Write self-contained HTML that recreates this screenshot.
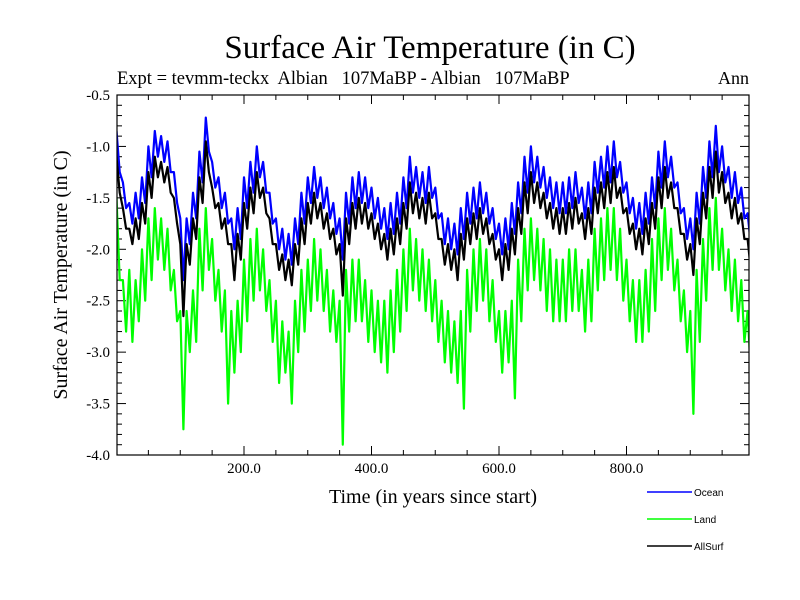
<!DOCTYPE html>
<html><head><meta charset="utf-8"><style>
body{margin:0;background:#fff}
svg{display:block}
.serif{font-family:"Liberation Serif",serif}
.sans{font-family:"Liberation Sans",sans-serif}
</style></head><body>
<svg id="chart" width="800" height="600" viewBox="0 0 800 600" xmlns="http://www.w3.org/2000/svg">
<rect width="800" height="600" fill="#fff"/>
<text class="serif" x="430" y="58" font-size="33" text-anchor="middle">Surface Air Temperature (in C)</text>
<text class="serif" x="117" y="84" font-size="18.5" xml:space="preserve">Expt = tevmm-teckx  Albian   107MaBP - Albian   107MaBP</text>
<text class="serif" x="749" y="84" font-size="18" text-anchor="end">Ann</text>
<text class="serif" font-size="20" text-anchor="middle" transform="translate(67,275) rotate(-90)">Surface Air Temperature (in C)</text>
<text class="serif" x="433" y="503" font-size="20" text-anchor="middle">Time (in years since start)</text>
<g id="ticks"></g>
<g id="series"></g>
<rect x="117" y="95" width="632" height="360" fill="none" stroke="#000" stroke-width="1.2"/>
<g class="sans" font-size="10">
<g><line x1="647" y1="492" x2="692" y2="492" stroke="#0000ff" stroke-width="1.5"/><text x="694" y="496">Ocean</text></g>
<g><line x1="647" y1="519" x2="692" y2="519" stroke="#00ff00" stroke-width="1.5"/><text x="694" y="523">Land</text></g>
<g><line x1="647" y1="546" x2="692" y2="546" stroke="#000" stroke-width="1.5"/><text x="694" y="550">AllSurf</text></g>
</g>
</svg>
<script>
const years_step = 5;
const xTickValues = [200, 400, 600, 800];
const xTickLabels = ["200.0", "400.0", "600.0", "800.0"];
const yTickValues = [-0.5, -1.0, -1.5, -2.0, -2.5, -3.0, -3.5, -4.0];
const yTickLabels = ["-0.5", "-1.0", "-1.5", "-2.0", "-2.5", "-3.0", "-3.5", "-4.0"];
const ocean = [-0.85,-1.25,-1.35,-1.6,-1.55,-1.75,-1.45,-1.7,-1.3,-1.55,-1.0,-1.3,-0.85,-1.1,-0.9,-1.15,-0.95,-1.25,-1.25,-1.55,
-1.7,-2.3,-1.7,-1.95,-1.45,-1.7,-1.05,-1.35,-0.72,-1.05,-1.15,-1.4,-1.3,-1.6,-1.45,-1.75,-1.7,-2.0,-1.6,-1.9,
-1.3,-1.6,-1.15,-1.45,-1.0,-1.3,-1.15,-1.45,-1.45,-1.75,-1.7,-2.0,-1.8,-2.1,-1.85,-2.15,-1.7,-1.95,-1.45,-1.75,
-1.3,-1.55,-1.2,-1.5,-1.3,-1.6,-1.4,-1.7,-1.55,-1.85,-1.7,-2.1,-1.45,-1.75,-1.3,-1.6,-1.25,-1.55,-1.3,-1.6,
-1.4,-1.7,-1.5,-1.8,-1.6,-1.9,-1.55,-1.85,-1.45,-1.75,-1.3,-1.6,-1.1,-1.45,-1.2,-1.5,-1.25,-1.55,-1.2,-1.5,
-1.4,-1.7,-1.65,-1.95,-1.7,-2.0,-1.75,-2.05,-1.6,-1.9,-1.45,-1.75,-1.4,-1.7,-1.35,-1.65,-1.45,-1.75,-1.6,-1.9,
-1.75,-2.05,-1.7,-2.0,-1.55,-1.85,-1.35,-1.65,-1.1,-1.45,-1.0,-1.35,-1.1,-1.4,-1.2,-1.5,-1.3,-1.6,-1.35,-1.65,
-1.35,-1.65,-1.3,-1.6,-1.25,-1.55,-1.4,-1.7,-1.35,-1.65,-1.15,-1.45,-1.1,-1.4,-1.0,-1.35,-0.95,-1.3,-1.15,-1.45,
-1.35,-1.65,-1.5,-1.8,-1.55,-1.85,-1.45,-1.75,-1.3,-1.6,-1.05,-1.4,-0.95,-1.3,-1.1,-1.4,-1.35,-1.65,-1.6,-1.9,
-1.7,-2.0,-1.45,-1.75,-1.2,-1.5,-0.95,-1.3,-0.8,-1.25,-1.0,-1.35,-1.2,-1.5,-1.25,-1.55,-1.4,-1.7,-1.65,-1.95];
const land = [-1.5,-2.3,-2.3,-2.8,-2.2,-2.9,-2.3,-2.7,-2.0,-2.5,-1.7,-2.3,-1.6,-2.1,-1.7,-2.2,-1.8,-2.4,-2.2,-2.7,
-2.6,-3.75,-2.6,-3.0,-2.4,-2.9,-1.8,-2.4,-1.6,-2.2,-1.9,-2.5,-2.2,-2.8,-2.4,-3.5,-2.6,-3.2,-2.5,-3.0,
-2.1,-2.7,-1.9,-2.5,-1.8,-2.4,-2.0,-2.6,-2.3,-2.9,-2.5,-3.3,-2.7,-3.2,-2.8,-3.5,-2.5,-3.0,-2.2,-2.8,
-2.1,-2.6,-1.9,-2.5,-2.0,-2.6,-2.2,-2.8,-2.4,-2.9,-2.5,-3.9,-2.2,-2.8,-2.1,-2.7,-2.1,-2.7,-2.3,-2.9,
-2.4,-3.0,-2.5,-3.1,-2.5,-3.2,-2.4,-3.0,-2.2,-2.8,-2.0,-2.6,-1.8,-2.4,-1.9,-2.5,-2.0,-2.6,-2.1,-2.7,
-2.3,-2.9,-2.5,-3.1,-2.6,-3.2,-2.7,-3.3,-2.6,-3.55,-2.2,-2.8,-2.0,-2.6,-1.9,-2.5,-2.0,-2.7,-2.3,-2.9,
-2.6,-3.2,-2.6,-3.1,-2.5,-3.45,-2.1,-2.7,-1.8,-2.4,-1.7,-2.3,-1.8,-2.4,-1.9,-2.6,-2.0,-2.7,-2.1,-2.7,
-2.1,-2.7,-2.0,-2.6,-2.0,-2.6,-2.2,-2.8,-2.1,-2.7,-1.8,-2.4,-1.7,-2.3,-1.6,-2.2,-1.6,-2.3,-1.8,-2.5,
-2.1,-2.7,-2.3,-2.9,-2.3,-2.9,-2.2,-2.8,-1.9,-2.6,-1.7,-2.3,-1.6,-2.2,-1.8,-2.4,-2.1,-2.7,-2.4,-3.0,
-2.6,-3.6,-2.2,-2.9,-1.9,-2.5,-1.6,-2.2,-1.5,-2.2,-1.8,-2.4,-2.0,-2.6,-2.1,-2.7,-2.3,-2.9,-2.6,-3.2];
const allsurf = [-1.1,-1.45,-1.6,-1.8,-1.8,-1.95,-1.7,-1.9,-1.55,-1.75,-1.25,-1.5,-1.1,-1.3,-1.15,-1.35,-1.2,-1.45,-1.5,-1.75,
-1.95,-2.65,-1.95,-2.15,-1.7,-1.9,-1.3,-1.55,-0.95,-1.25,-1.4,-1.6,-1.55,-1.8,-1.7,-1.95,-1.95,-2.3,-1.85,-2.1,
-1.55,-1.8,-1.4,-1.65,-1.25,-1.5,-1.4,-1.65,-1.7,-1.95,-1.95,-2.2,-2.05,-2.3,-2.1,-2.35,-1.95,-2.15,-1.7,-1.95,
-1.55,-1.75,-1.45,-1.7,-1.55,-1.8,-1.65,-1.9,-1.8,-2.05,-1.95,-2.45,-1.7,-1.95,-1.55,-1.8,-1.5,-1.75,-1.55,-1.8,
-1.65,-1.9,-1.75,-2.0,-1.85,-2.1,-1.8,-2.05,-1.7,-1.95,-1.55,-1.8,-1.35,-1.65,-1.45,-1.7,-1.5,-1.75,-1.45,-1.7,
-1.65,-1.9,-1.9,-2.15,-1.95,-2.2,-2.0,-2.3,-1.85,-2.1,-1.7,-1.95,-1.65,-1.9,-1.6,-1.85,-1.7,-1.95,-1.85,-2.1,
-2.0,-2.3,-1.95,-2.2,-1.8,-2.05,-1.6,-1.85,-1.35,-1.65,-1.25,-1.55,-1.35,-1.6,-1.45,-1.7,-1.55,-1.8,-1.6,-1.85,
-1.6,-1.85,-1.55,-1.8,-1.5,-1.75,-1.65,-1.9,-1.6,-1.85,-1.4,-1.65,-1.35,-1.6,-1.25,-1.55,-1.2,-1.5,-1.4,-1.65,
-1.6,-1.85,-1.75,-2.0,-1.8,-2.05,-1.7,-1.95,-1.55,-1.8,-1.3,-1.6,-1.2,-1.5,-1.35,-1.6,-1.6,-1.85,-1.85,-2.1,
-1.95,-2.25,-1.7,-1.95,-1.45,-1.7,-1.2,-1.5,-1.05,-1.45,-1.25,-1.55,-1.45,-1.7,-1.5,-1.75,-1.65,-1.9,-1.9,-2.2];

const NS = "http://www.w3.org/2000/svg";
const L = 117, R = 749, T = 95, B = 455;
function xs(yr){ return 116.5 + yr * 0.6375; }
function ys(v){ return T + (-0.5 - v) * (B - T) / 3.5; }

const svg = document.getElementById('chart');
const defs = document.createElementNS(NS, 'defs');
defs.innerHTML = '<clipPath id="pc"><rect x="117" y="95" width="632" height="360"/></clipPath>';
svg.insertBefore(defs, svg.firstChild);

const tg = document.getElementById('ticks');
function line(x1,y1,x2,y2){
  const l = document.createElementNS(NS,'line');
  l.setAttribute('x1',x1);l.setAttribute('y1',y1);l.setAttribute('x2',x2);l.setAttribute('y2',y2);
  l.setAttribute('stroke','#000');l.setAttribute('stroke-width','1');
  
  
  tg.appendChild(l);
}
function label(x,y,txt,anchor,name){
  const t = document.createElementNS(NS,'text');
  t.setAttribute('x',x);t.setAttribute('y',y);t.setAttribute('text-anchor',anchor);
  t.setAttribute('font-size','15');t.setAttribute('class','serif');
  t.textContent = txt;
  
  
  tg.appendChild(t);
}
for (let yr = 50; yr < 1000; yr += 50){
  const major = yr % 200 === 0;
  const len = major ? 9 : 5;
  line(xs(yr), B, xs(yr), B - len);
  line(xs(yr), T, xs(yr), T + len);
}
xTickValues.forEach((v,i)=>label(xs(v), B + 18, xTickLabels[i], 'middle', 'x-tick-label'));
for (let k = 0; k <= 35; k++){
  const v = -0.5 - k * 0.1;
  const major = k % 5 === 0;
  const len = major ? 9 : 5;
  line(L, ys(v), L + len, ys(v));
  line(R, ys(v), R - len, ys(v));
}
yTickValues.forEach((v,i)=>label(110, ys(v) + 5, yTickLabels[i], 'end', 'y-tick-label'));

const sg = document.getElementById('series');
sg.setAttribute('clip-path','url(#pc)');
function drawSeries(arr, color, name){
  const p = document.createElementNS(NS,'polyline');
  p.setAttribute('points', arr.map((v,i)=>xs(i*years_step).toFixed(1)+','+ys(v).toFixed(1)).join(' '));
  p.setAttribute('fill','none');p.setAttribute('stroke',color);p.setAttribute('stroke-width','2.2');
  p.setAttribute('stroke-linejoin','round');
  
  
  sg.appendChild(p);
}
drawSeries(land, '#00ff00', 'land-line');
drawSeries(ocean, '#0000ff', 'ocean-line');
drawSeries(allsurf, '#000000', 'allsurf-line');
</script>
</body></html>
